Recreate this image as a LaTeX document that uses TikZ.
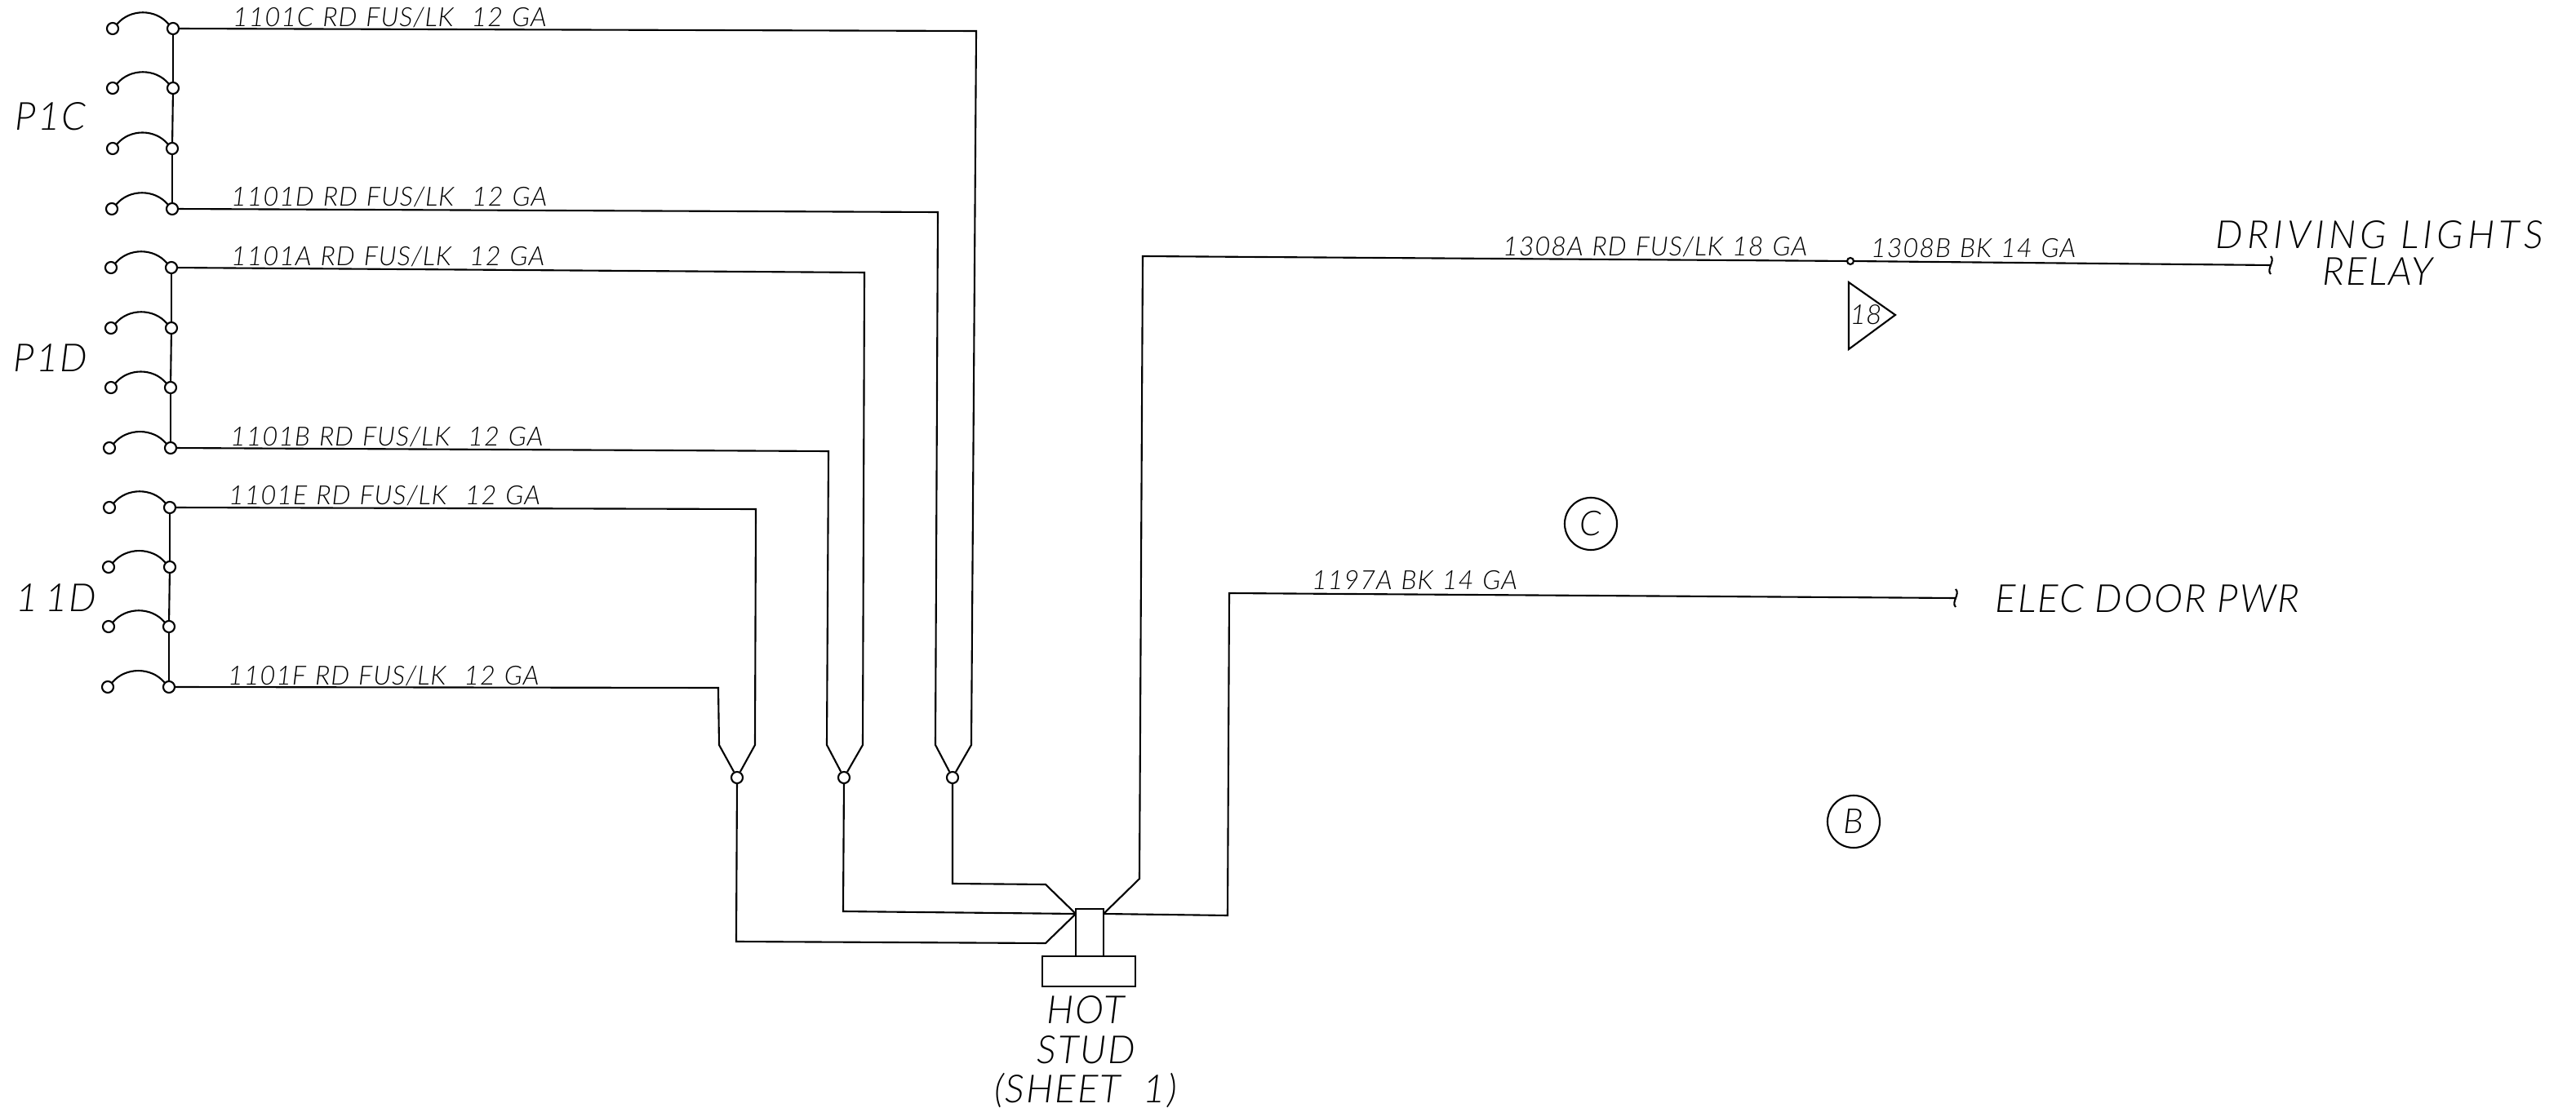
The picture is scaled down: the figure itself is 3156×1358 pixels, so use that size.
\documentclass[tikz,border=0pt]{standalone}
\usepackage{fontspec}
\setmainfont{Lato}[UprightFont=* Light,ItalicFont=* Light Italic]
\newcommand{\wirefont}{\fontsize{9.2}{9.5}\selectfont\itshape\addfontfeature{LetterSpace=3}\spaceskip 0.34em\relax}
\begin{document}
\begin{tikzpicture}[x=0.01cm,y=-0.01cm,line width=0.6pt]
  \tikzstyle{every node}=[inner sep=0pt]
  \tikzstyle{term}=[circle,draw,minimum size=0.14cm]
  \tikzstyle{wirelabel}=[anchor=base west,font=\wirefont]
  \tikzstyle{biglabel}=[anchor=base,font=\fontsize{13.5}{14}\selectfont\itshape\addfontfeature{LetterSpace=4}]
  \tikzstyle{ringlabel}=[circle,draw,minimum size=0.64cm,font=\fontsize{12}{12}\selectfont\itshape]
  \useasboundingbox (0,0) rectangle (3156,1358);
  % fuse terminals
  \foreach \n/\xr/\xl/\y in {pc1/212/138/35,pc2/212/138/108,pc3/211/138/182,pc4/211/137/256,
    pd1/210/136/328,pd2/210/136/402,pd3/209/136/475,pd4/209/134/549,
    id1/208/134/622,id2/208/133/695,id3/207/133/768,id4/207/132/842}
    {
    \node[term] (\n) at (\xr,\y) {};
    \node[term] (\n l) at (\xl,\y) {};
    \draw (\n l.45) to[out=50,in=130] (\n.135);
    }
  \foreach \a/\b in {pc1/pc2,pc2/pc3,pc3/pc4,pd1/pd2,pd2/pd3,pd3/pd4,id1/id2,id2/id3,id3/id4}
    \draw (\a) -- (\b);
  % splices and stud
  \node[term] (ja) at (903,953) {};
  \node[term] (jb) at (1034,953) {};
  \node[term] (jc) at (1167,953) {};
  \node[draw,minimum width=0.34cm,minimum height=0.58cm] (stud) at (1335,1143) {};
  \node[draw,minimum width=1.14cm,minimum height=0.37cm] (studbase) at (1334,1190.5) {};
  \coordinate (studl) at (1318,1120);
  \coordinate (studr) at (1352,1120);
  \coordinate (relayend) at (2782,325);
  \coordinate (doorend) at (2396,733);
  \node[circle,draw,minimum size=0.08cm] (tap) at (2267,320) {};
  % wires
  \draw (pc1) -- (1196,38) -- (1190,913) -- (jc);
  \draw (pc4) -- (1149,260) -- (1146,913) -- (jc);
  \draw (pd1) -- (1059,334) -- (1057,913) -- (jb);
  \draw (pd4) -- (1015,553) -- (1013,913) -- (jb);
  \draw (id1) -- (926,624) -- (925,913) -- (ja);
  \draw (id4) -- (880,843) -- (881,913) -- (ja);
  \draw (ja) -- (902,1154) -- (1281,1156) -- (studl);
  \draw (jb) -- (1033,1117) -- (studl);
  \draw (jc) -- (1167,1083) -- (1281,1084) -- (studl);
  \draw (studr) -- (1396,1077) -- (1400,314) -- (tap);
  \draw (tap) -- (relayend);
  \draw (studr) -- (1504,1122) -- (1506,727) -- (doorend);
  \foreach \e in {relayend,doorend}
    \draw ([yshift=0.11cm]\e) .. controls ([shift={(0.06cm,0.05cm)}]\e) and ([shift={(-0.06cm,-0.05cm)}]\e) .. ([yshift=-0.11cm]\e);
  % wire labels
  \node[wirelabel] (c) at (284,33) {1101C RD FUS/LK\ \ 12 GA};
  \node[wirelabel] (d) at (282,253) {1101D RD FUS/LK\ \ 12 GA};
  \node[wirelabel] (a) at (282,326) {1101A RD FUS/LK\ \ 12 GA};
  \node[wirelabel] (b) at (281,547) {1101B RD FUS/LK\ \ 12 GA};
  \node[wirelabel] (e) at (279,619) {1101E RD FUS/LK\ \ 12 GA};
  \node[wirelabel] (f) at (278,840) {1101F RD FUS/LK\ \ 12 GA};
  \node[wirelabel] (rdwire) at (1840,314) {1308A RD FUS/LK 18 GA};
  \node[wirelabel] (bkwire) at (2291,316) {1308B BK 14 GA};
  \node[wirelabel] (doorwire) at (1606,722) {1197A BK 14 GA};
  % big labels
  \node[biglabel] (pc) at (62,160) {P1C};
  \node[biglabel] (pd) at (62,456) {P1D};
  \node[biglabel] (id) at (69,750) {1\,1D};
  \node[biglabel,font=\fontsize{13.5}{14}\selectfont\itshape\addfontfeature{LetterSpace=11}] (drive) at (2915,305) {DRIVING LIGHTS};
  \node[biglabel] (relay) at (2913,350) {RELAY};
  \node[biglabel] (door) at (2631,751) {ELEC DOOR PWR};
  \node[biglabel] (hot) at (1330,1254) {HOT};
  \node[biglabel] (studtxt) at (1331,1303) {STUD};
  \node[biglabel] (sheet) at (1330,1351) {(SHEET\ \ 1)};
  % sheet marks
  \node[ringlabel] (ringc) at (1949,642) {C};
  \node[ringlabel] (ringb) at (2271,1007) {B};
  \draw (2265,346) -- (2322,386) -- (2265,428) -- cycle;
  \node[anchor=base,font=\fontsize{9.5}{10}\selectfont\itshape] (flag) at (2286,398) {18};
\end{tikzpicture}
\end{document}
